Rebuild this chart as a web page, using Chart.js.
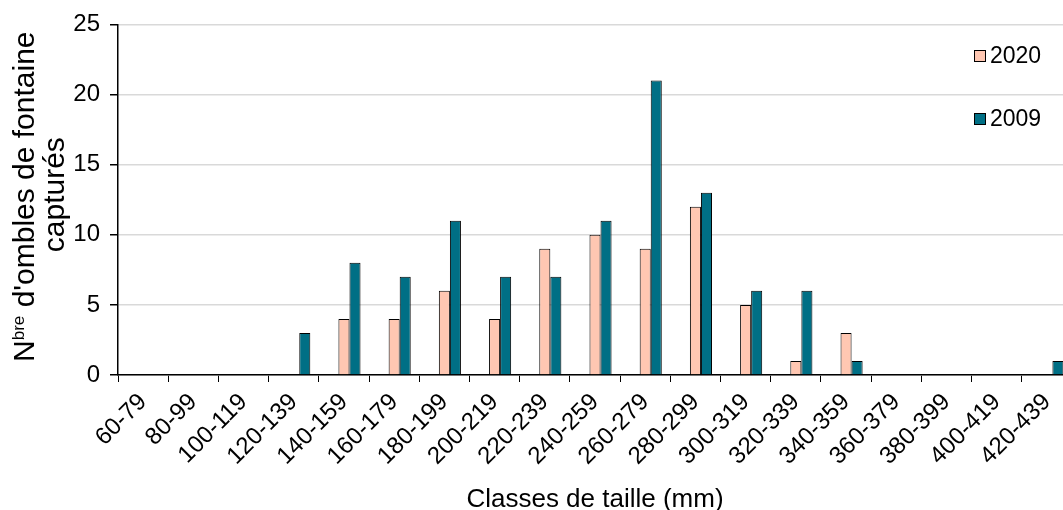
<!DOCTYPE html>
<html lang="fr">
<head>
<meta charset="UTF-8">
<title>Classes de taille</title>
<style>
    html, body {
        margin: 0;
        padding: 0;
        overflow: hidden;
        background: #fff;
        font-family: "Liberation Sans", Arial, sans-serif;
    }
    .wrap {
        position: relative;
        width: 1080px;
        height: 510px;
    }
    #legend {
        position: absolute;
        left: 974px;
        top: 41px;
        font-size: 23px;
        color: #000;
    }
    #legend .item {
        height: 28px;
        line-height: 28px;
        margin-bottom: 35px;
        white-space: nowrap;
    }
    #legend .box {
        display: inline-block;
        width: 10px;
        height: 10px;
        border: 1px solid #000;
        margin-right: 4px;
        vertical-align: 1px;
    }
</style>
</head>
<body>
<div class="wrap">
    <canvas id="chart" width="1080" height="510"></canvas>
    <div id="legend"></div>
</div>

<script src="https://cdn.jsdelivr.net/npm/chart.js"></script>
<script>
    const classes = ['60-79', '80-99', '100-119', '120-139', '140-159', '160-179', '180-199',
        '200-219', '220-239', '240-259', '260-279', '280-299', '300-319', '320-339',
        '340-359', '360-379', '380-399', '400-419', '420-439'];
    const values2020 = [0, 0, 0, 0, 4, 4, 6, 4, 9, 10, 9, 12, 5, 1, 3, 0, 0, 0, 0];
    const values2009 = [0, 0, 0, 3, 8, 7, 11, 7, 7, 11, 21, 13, 6, 6, 1, 0, 0, 0, 1];
    const emptySlot = classes.map(() => null); // empty first series in the original workbook
    const yTicks = [0, 5, 10, 15, 20, 25];

    const FAM = '"Liberation Sans", Arial, sans-serif';
    const font = { family: FAM, size: 24 };

    // y title with superscript "bre"
    const yTitlePlugin = {
        id: 'yTitle',
        afterDraw(chart) {
            const ctx = chart.ctx;
            const a = chart.chartArea;
            const cy = (a.top + a.bottom) / 2 - 3;
            const big = '30px ' + FAM, small = '17px ' + FAM;
            ctx.save();
            ctx.fillStyle = '#000';
            ctx.textBaseline = 'alphabetic';
            ctx.font = big;
            const w1 = ctx.measureText('N').width;
            const w3 = ctx.measureText(" d'ombles de fontaine").width;
            ctx.font = small;
            const w2 = ctx.measureText('bre').width;
            const total = w1 + w2 + w3;

            ctx.translate(34, cy);
            ctx.rotate(-Math.PI / 2);
            let x = -total / 2;
            ctx.font = big;
            ctx.fillText('N', x, 0);
            x += w1;
            ctx.font = small;
            ctx.fillText('bre', x, -10);
            x += w2;
            ctx.font = big;
            ctx.fillText(" d'ombles de fontaine", x, 0);

            ctx.textAlign = 'center';
            ctx.fillText('capturés', 2, 30);
            ctx.restore();
        }
    };

    const ctx = document.getElementById('chart').getContext('2d');
    const chart = new Chart(ctx, {
        type: 'bar',
        data: {
            labels: classes,
            datasets: [{
                label: '',
                data: emptySlot
            }, {
                label: '2020',
                data: values2020,
                backgroundColor: '#FFC7B2',
                borderColor: '#000',
                borderWidth: 1
            }, {
                label: '2009',
                data: values2009,
                backgroundColor: '#006F85',
                borderColor: '#000',
                borderWidth: 1
            }]
        },
        options: {
            responsive: false,
            animation: false,
            devicePixelRatio: 1,
            layout: {
                padding: { left: 0, right: 8, top: 23, bottom: 0 }
            },
            datasets: {
                bar: {
                    categoryPercentage: 0.66,
                    barPercentage: 1
                }
            },
            scales: {
                x: {
                    grid: {
                        drawOnChartArea: false,
                        color: '#000',
                        tickColor: '#000',
                        tickLength: 7,
                        offset: true
                    },
                    border: { color: '#000', width: 1.5 },
                    ticks: {
                        font: font,
                        color: '#000',
                        minRotation: 45,
                        maxRotation: 45,
                        autoSkip: false,
                        padding: 6
                    },
                    title: {
                        display: true,
                        text: 'Classes de taille (mm)',
                        font: { family: FAM, size: 26 },
                        color: '#000',
                        padding: { top: 0, bottom: -5 }
                    },
                    afterFit(scale) { scale.height = 135; }
                },
                y: {
                    min: 0,
                    max: 25,
                    afterBuildTicks(scale) {
                        scale.ticks = yTicks.map(v => ({ value: v }));
                    },
                    grid: {
                        color: '#D9D9D9',
                        lineWidth: 1.5,
                        tickColor: '#000',
                        tickLength: 8
                    },
                    border: { color: '#000', width: 1.5 },
                    ticks: {
                        font: font,
                        color: '#000',
                        padding: 10
                    },
                    afterFit(scale) { scale.width = 118; }
                }
            },
            plugins: {
                legend: { display: false },
                tooltip: { enabled: false }
            }
        },
        plugins: [yTitlePlugin]
    });

    // HTML legend from the datasets
    const legend = document.getElementById('legend');
    chart.data.datasets.filter(d => d.label).forEach(d => {
        const item = document.createElement('div');
        item.className = 'item';
        item.innerHTML = '<span class="box" style="background:' + d.backgroundColor + '"></span>' + d.label;
        legend.appendChild(item);
    });
</script>
</body>
</html>
